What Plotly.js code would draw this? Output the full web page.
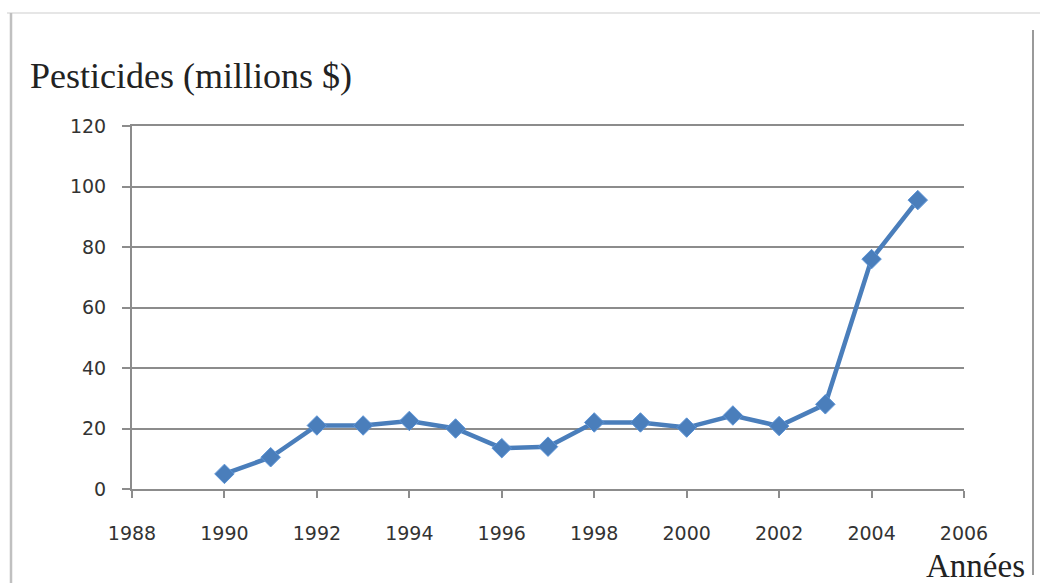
<!DOCTYPE html>
<html>
<head>
<meta charset="utf-8">
<script src="https://cdn.plot.ly/plotly-3.0.1.min.js"></script>
<style>html,body{margin:0;padding:0;background:#fff;}#chart{width:1040px;height:585px;}</style>
</head>
<body>
<div id="chart"></div>
<script>
const years = [1990, 1991, 1992, 1993, 1994, 1995, 1996, 1997, 1998, 1999, 2000, 2001, 2002, 2003, 2004, 2005];
const pesticides = [5, 10.5, 21, 21, 22.5, 20, 13.5, 14, 22, 22, 20.3, 24.3, 20.8, 28, 76, 95.5];
const xTicks = [1988, 1990, 1992, 1994, 1996, 1998, 2000, 2002, 2004, 2006];
const yTicks = [0, 20, 40, 60, 80, 100, 120];
const yTitle = 'Pesticides (millions $)';
const xTitle = 'Années';

const trace = {
  x: years, y: pesticides, type: 'scatter', mode: 'lines+markers',
  line: {color: '#4A7EBB', width: 4.5},
  marker: {symbol: 'diamond', size: 15, color: '#4A7EBB', line: {color: '#5B93D6', width: 1}},
  hoverinfo: 'skip'
};

const tickFont = {family: 'DejaVu Sans, sans-serif', size: 19, color: '#333'};
const axisGray = '#8c8c8c';

const layout = {
  width: 1040, height: 585,
  margin: {l: 132, r: 76, t: 126, b: 96},
  paper_bgcolor: '#fff', plot_bgcolor: '#fff',
  showlegend: false,
  font: {family: 'DejaVu Sans, sans-serif', color: '#333'},
  xaxis: {
    range: [1988, 2006], tickvals: xTicks, ticktext: xTicks.map(String),
    showgrid: false, zeroline: false, showline: true, mirror: true, linecolor: axisGray, linewidth: 2,
    ticks: 'outside', ticklen: 7, tickcolor: axisGray, tickwidth: 2,
    ticklabelstandoff: 19,
    tickfont: tickFont
  },
  yaxis: {
    range: [0, 120], tickvals: yTicks, ticktext: yTicks.map(String),
    showgrid: true, gridcolor: axisGray, gridwidth: 2, zeroline: false,
    showline: true, linecolor: axisGray, linewidth: 2,
    ticks: 'outside', ticklen: 8, tickcolor: axisGray, tickwidth: 2,
    ticklabelstandoff: 12,
    tickfont: tickFont
  },
  shapes: [
    {type: 'line', xref: 'paper', yref: 'paper', x0: -125/832, x1: 908/832, y0: 476/363, y1: 476/363, line: {color: '#e6e6e6', width: 2}},
    {type: 'line', xref: 'paper', yref: 'paper', x0: -121/832, x1: -121/832, y0: -94/363, y1: 476/363, line: {color: '#c0c0c0', width: 2.5}},
    {type: 'line', xref: 'paper', yref: 'paper', x0: 1 + 69/832, x1: 1 + 69/832, y0: -86/363, y1: 1 + 96/363, line: {color: '#9a9a9a', width: 2}}
  ],
  annotations: [
    {text: yTitle, xref: 'paper', yref: 'paper', x: -104/832, y: 1 + 50/363, xanchor: 'left', yanchor: 'middle', showarrow: false,
     font: {family: 'Liberation Serif, serif', size: 36, color: '#222'}},
    {text: xTitle, xref: 'paper', yref: 'paper', x: 1 + 63/832, y: -77/363, xanchor: 'right', yanchor: 'middle', showarrow: false,
     font: {family: 'Liberation Serif, serif', size: 33, color: '#222'}}
  ]
};

Plotly.newPlot('chart', [trace], layout, {displayModeBar: false, staticPlot: true});
</script>
</body>
</html>
